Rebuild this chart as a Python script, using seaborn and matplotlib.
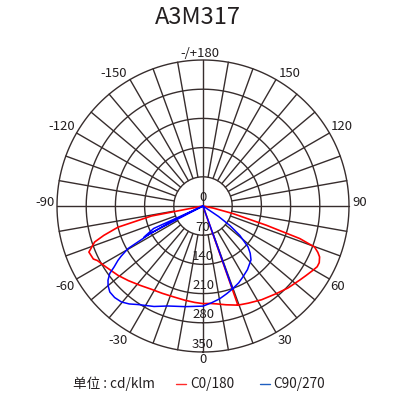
import numpy as np
import pandas as pd
import matplotlib
matplotlib.use("Agg")
import matplotlib.pyplot as plt
import seaborn as sns

# ---------------- data ----------------
title = "A3M317"
ring_values = [70, 140, 210, 280, 350]
angle_ticks = [180, 150, 120, 90, 60, 30, 0, -30, -60, -90, -120, -150]
angle_labels = ["-/+180", "150", "120", "90", "60", "30", "0", "-30", "-60", "-90", "-120", "-150"]

series_names = ["C0/180", "C90/270"]
unit_label = "单位 : cd/klm"

# C0/180 (drawing order, degrees / cd/klm)
red_angle = [19.4, 19.4, 25, 32, 40, 46, 52.5, 56, 60, 62, 64, 66.4, 68, 69.8, 71.4, 73.1, 75.8, 78.5, 80.5,
             -82, -79, -76, -73.5, -71.6, -68, -64.2, -62.7, -58, -50.8, -45, -38.6, -32, -25, -18, -11, -5,
             0, 3.7, 8, 13, 19.4]
red_value = [0, 252, 257, 265, 274, 283, 292, 298, 306, 310, 310, 305, 297, 285, 245, 159, 74, 25, 0,
             0, 126, 210, 248, 274, 295, 292, 285, 275, 263, 253, 243, 235, 231, 229, 230, 232,
             234, 234, 237, 243, 252]

# C90/270 (drawing order)
blue_angle = [19.6, 19.6, 25, 29.4, 35, 41.7, 45, 47.7, 51.4, 54, 56, 58,
              -69, -65.5, -62.2, -64, -65, -63.5, -62.6, -61.5, -60.4, -58.5, -57.4, -55.6, -54.1, -52, -50,
              -47.3, -44, -40.4, -37, -33.4, -26, -19.3, -10, 0, 5, 10.2, 15, 19.6]
blue_value = [0, 211, 203, 195, 186, 173, 160, 146, 113, 80, 45, 0,
              0, 130, 160, 75, 0, 0, 140, 164, 207, 230, 242, 258, 276, 289, 297,
              304, 305, 302, 294, 283, 268, 254, 245, 240, 233, 226, 218, 211]

# ---------------- style ----------------
sns.set_theme(style="white")
plt.rcParams["font.family"] = ["Noto Sans CJK SC", "DejaVu Sans"]

grid_col = "#372d2d"
text_col = "#231f20"
red_col = "#ff0000"
blue_col = "#0000ff"

W = H = 400
fig = plt.figure(figsize=(4, 4), dpi=100)
cx, cy, R = 203.0, 206.0, 146.0
ax = fig.add_axes([(cx - R) / W, (H - cy - R) / H, 2 * R / W, 2 * R / H], projection="polar")
ax.set_theta_zero_location("S")
ax.set_theta_direction(1)
ax.set_ylim(0, 350)
ax.grid(False)
ax.spines["polar"].set_visible(False)
ax.set_xticks([])
ax.set_yticks([])
ax.set_facecolor("white")

# rings
th = np.linspace(0, 2 * np.pi, 721)
for rv in ring_values:
    ax.plot(th, np.full_like(th, rv), color=grid_col, lw=1.0, clip_on=False, zorder=1)
# spokes
for a in range(0, 360, 10):
    r0 = 0 if a % 90 == 0 else ring_values[0]
    ax.plot([np.deg2rad(a)] * 2, [r0, 350], color=grid_col, lw=1.0, clip_on=False, zorder=1)

# curves
df_red = pd.DataFrame({"theta": np.deg2rad(red_angle), "value": red_value})
df_blue = pd.DataFrame({"theta": np.deg2rad(blue_angle), "value": blue_value})
sns.lineplot(data=df_red, x="theta", y="value", sort=False, estimator=None, ax=ax,
             color=red_col, lw=1.2, zorder=3)
sns.lineplot(data=df_blue, x="theta", y="value", sort=False, estimator=None, ax=ax,
             color=blue_col, lw=1.1, zorder=4)
ax.set_xlabel("")
ax.set_ylabel("")
ax.set_ylim(0, 350)

# angle labels: pixel offsets from the pole (x right, y down)
label_offsets = {
    180: (-3, -152.5), 150: (87, -132.5), 120: (139, -80), 90: (157, -4),
    60: (135, 80.5), 30: (82, 134.5), 0: (0, 153.5), -30: (-85, 134.5),
    -60: (-138, 81), -90: (-158, -4), -120: (-141, -80), -150: (-89, -132.5),
}
for a, lab in zip(angle_ticks, angle_labels):
    dx, dy = label_offsets[a]
    ax.annotate(lab, xy=(0, 0), xycoords="data", xytext=(dx * 0.72, -dy * 0.72),
                textcoords="offset points", ha="center", va="center",
                fontsize=9.5, color=text_col, annotation_clip=False)

# radial labels
ax.annotate("0", xy=(0, 0), xytext=(0, 1.2), textcoords="offset points",
            ha="center", va="bottom", fontsize=9.5, color=text_col, zorder=5)
for rv in ring_values:
    ax.annotate(str(rv), xy=(0, rv), xytext=(0, 1.0), textcoords="offset points",
                ha="center", va="bottom", fontsize=9.5, color=text_col, zorder=5)

# title
fig.text(197.5 / W, 1 - 18 / H, title, ha="center", va="center", fontsize=17, color=text_col)

# legend
ly = 1 - 384 / H
fig.text(73 / W, ly, unit_label, ha="left", va="center", fontsize=9.8, color=text_col)
fig.add_artist(plt.Line2D([176 / W, 186 / W], [ly, ly], color="#ff2a2a", lw=1.0))
fig.text(190 / W, ly, series_names[0], ha="left", va="center", fontsize=9.8, color=text_col)
fig.add_artist(plt.Line2D([260 / W, 270 / W], [ly, ly], color="#1f5fc0", lw=1.0))
fig.text(273 / W, ly, series_names[1], ha="left", va="center", fontsize=9.8, color=text_col)

fig.savefig("out.png", dpi=100, facecolor="white")
